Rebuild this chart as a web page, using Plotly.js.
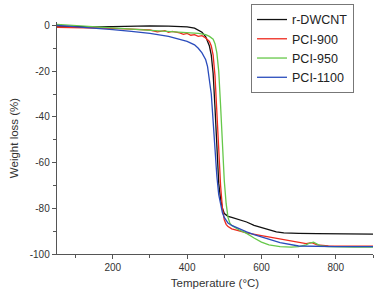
<!DOCTYPE html>
<html><head><meta charset="utf-8">
<script src="https://cdn.plot.ly/plotly-3.0.1.min.js"></script>
<style>html,body{margin:0;padding:0;background:#fff}#c{width:374px;height:289px}</style>
</head><body><div id="c"></div>
<script>
const seriesNames = ["r-DWCNT", "PCI-900", "PCI-950", "PCI-1100"];
const seriesColors = ["#111111", "#ee2a1e", "#66c84a", "#2a4cbc"];

const xTickVals = [200, 400, 600, 800];
const xTickText = ["200", "400", "600", "800"];
const yTickVals = [0, -20, -40, -60, -80, -100];
const yTickText = ["0", "-20", "-40", "-60", "-80", "-100"];

const tempDWCNT = [50,100,150,200,250,300,350,400,420,440,450,460,465,470,475,480,485,490,495,500,505,510,520,540,560,580,600,620,640,660,680,700,750,800,850,900];
const lossDWCNT = [-0.3,-0.5,-0.6,-0.5,-0.3,-0.2,-0.3,-0.6,-1.2,-3,-5,-9,-13,-21,-36,-55,-69,-76,-80,-82.3,-83,-83.5,-84,-85,-86,-87.5,-88.5,-89.5,-90.3,-90.8,-91,-91,-91.1,-91.2,-91.3,-91.3];

const temp900 = [50,100,150,200,250,300,320,340,350,360,380,390,400,410,420,430,440,450,460,465,470,475,480,485,490,495,500,505,510,520,540,560,600,650,700,720,735,750,780,800,850,900];
const loss900 = [-0.8,-0.9,-1.0,-1.3,-1.6,-2,-2.8,-2.3,-3,-2.6,-3.3,-3.9,-3.5,-4.3,-4,-4.8,-4.5,-5.5,-7,-9,-13,-22,-38,-55,-70,-80,-85,-87,-88,-89,-90,-90.8,-92,-93.5,-95,-95.5,-95,-96,-96.5,-96.6,-96.6,-96.6];

const temp950 = [50,100,150,200,250,300,350,400,430,450,460,470,475,480,485,490,495,500,505,510,515,520,540,560,580,600,620,650,680,700,720,730,740,750,760,780,800,850,900];
const loss950 = [0.5,0,-0.5,-1,-1.5,-2,-2.5,-3,-3.5,-4,-4.8,-6,-8,-12,-20,-35,-53,-68,-78,-84,-86.5,-87.5,-89.5,-91,-93,-94.8,-96,-96.8,-97,-96.8,-96,-95.2,-94.8,-95.5,-96.5,-96.8,-96.9,-97,-97];

const temp1100 = [50,100,150,200,250,300,350,380,400,420,430,440,450,455,460,465,470,475,480,485,490,495,500,505,510,520,540,560,580,600,650,700,750,800,850,900];
const loss1100 = [0,-0.5,-1,-1.8,-2.6,-3.5,-4.8,-6,-7,-8.5,-10,-12,-15,-18,-23,-30,-42,-55,-66,-74,-79,-82,-84,-85.5,-86.5,-87.5,-89,-90.3,-91.5,-92.5,-95,-96.5,-96.8,-96.8,-96.8,-96.8];

const xs = [tempDWCNT, temp900, temp950, temp1100];
const ys = [lossDWCNT, loss900, loss950, loss1100];

const traces = seriesNames.map((n, i) => ({
  x: xs[i], y: ys[i], name: n, type: 'scatter', mode: 'lines',
  line: {color: seriesColors[i], width: 1.3}
}));

const axisCommon = {
  showline: true, linecolor: '#555', linewidth: 1.3, mirror: false,
  ticks: 'outside', ticklen: 4, tickcolor: '#555', tickwidth: 1,
  showgrid: false, zeroline: false,
  tickfont: {family: 'Liberation Sans, Arial, sans-serif', size: 10, color: '#333'}
};

const layout = {
  width: 374, height: 289,
  margin: {l: 57, r: 1, t: 22, b: 35},
  paper_bgcolor: '#fff', plot_bgcolor: '#fff',
  font: {family: 'Liberation Sans, Arial, sans-serif', color: '#333'},
  showlegend: true,
  legend: {x: 0.614, y: 1.078, xanchor: 'left', yanchor: 'top',
    bordercolor: '#777', borderwidth: 1, bgcolor: '#fff',
    font: {size: 12.5, color: '#222'}, itemwidth: 30, tracegroupgap: 0},
  xaxis: Object.assign({}, axisCommon, {
    range: [50, 900], tickmode: 'array', tickvals: xTickVals, ticktext: xTickText,
    minor: {tickmode: 'linear', tick0: 0, dtick: 100, ticks: 'outside', ticklen: 3, tickcolor: '#555'},
    title: {text: 'Temperature (°C)', font: {size: 11.5, color: '#333'}, standoff: 6}
  }),
  yaxis: Object.assign({}, axisCommon, {
    range: [-100, 1.5], tickmode: 'array', tickvals: yTickVals, ticktext: yTickText,
    minor: {tickmode: 'linear', tick0: 0, dtick: 10, ticks: 'outside', ticklen: 3, tickcolor: '#555'},
    title: {text: 'Weight loss (%)', font: {size: 11.5, color: '#333'}, standoff: 8}
  })
};

Plotly.newPlot('c', traces, layout, {displayModeBar: false, staticPlot: true});
</script></body></html>
